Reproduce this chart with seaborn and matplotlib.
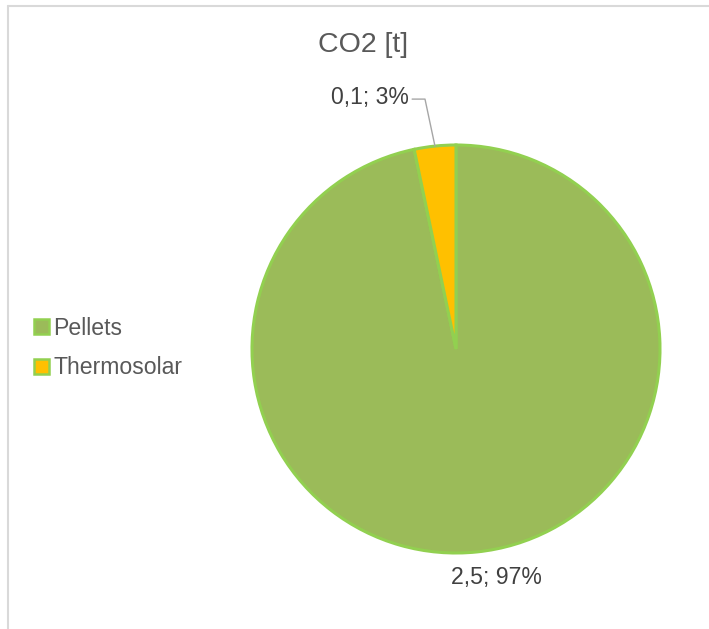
import numpy as np
import matplotlib
matplotlib.use("Agg")
import matplotlib.pyplot as plt
import seaborn as sns
from matplotlib.patches import Patch
from matplotlib.lines import Line2D

# ---- data ----
categories = ["Pellets", "Thermosolar"]
values = [2.5, 0.085]
title = "CO2 [t]"

# ---- style ----
sns.set_style("white")
plt.rcParams["font.family"] = ["Liberation Sans", "DejaVu Sans"]
colors = sns.color_palette(["#9BBB59", "#FFC000"])
edge = "#92D050"
text_col = "#595959"
label_col = "#404040"

W, H = 709, 629
fig = plt.figure(figsize=(W / 100, H / 100), dpi=100)
fig.patch.set_facecolor("white")

# chart-area border (top and left edges visible)
fig.add_artist(Line2D([8 / W, 8 / W], [0, 1 - 6 / H], transform=fig.transFigure,
                      color="#D9D9D9", lw=1.5))
fig.add_artist(Line2D([8 / W, 1], [1 - 6 / H, 1 - 6 / H], transform=fig.transFigure,
                      color="#D9D9D9", lw=1.5))

cx, cy, r = 456, 349, 204
ax = fig.add_axes([(cx - r) / W, (H - cy - r) / H, 2 * r / W, 2 * r / H])

wedges, _ = ax.pie(values, colors=colors, startangle=90, counterclock=False,
                   radius=1, wedgeprops=dict(edgecolor=edge, linewidth=2.2))
ax.set_xlim(-1, 1)
ax.set_ylim(-1, 1)
ax.set_aspect("equal")
ax.axis("off")
for w in wedges:
    w.set_clip_on(False)

total = sum(values)

def fmt(v):
    return f"{v:.1f}".replace(".", ",") + f"; {v / total * 100:.0f}%"

# Pellets label (below pie)
ax.text(0.20, -1.12, fmt(values[0]), ha="center", va="center",
        fontsize=16.6, color=label_col, clip_on=False)

# Thermosolar label with leader line
w = wedges[1]
mid = np.deg2rad((w.theta1 + w.theta2) / 2)
px, py = np.cos(mid), np.sin(mid)
lx, ly = -0.42, 1.235
ax.text(lx, ly, fmt(values[1]), ha="center", va="center",
        fontsize=16.6, color=label_col, clip_on=False)
ax.add_line(Line2D([-0.215, -0.152, px * 1.0], [1.225, 1.225, py * 1.0],
                   color="#A6A6A6", lw=1.0, clip_on=False))

# title
fig.text(363 / W, 1 - 45 / H, title, ha="center", va="center",
         fontsize=20.5, color=text_col)

# legend
handles = [Patch(facecolor=c, edgecolor=edge, linewidth=1.8) for c in colors]
fig.legend(handles, categories, loc="center left",
           bbox_to_anchor=(13 / W, 1 - 348 / H), frameon=False,
           fontsize=16.6, labelcolor=text_col, handlelength=0.65,
           handleheight=0.65, handletextpad=0.2, labelspacing=0.72)

fig.savefig("out.png", dpi=100, facecolor="white")
